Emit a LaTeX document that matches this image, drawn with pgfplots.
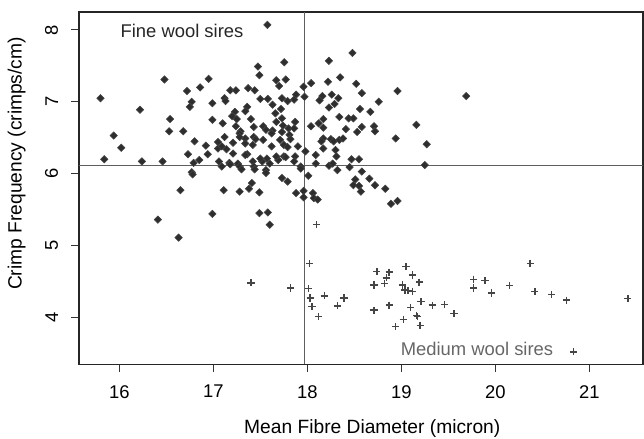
\documentclass[border=0pt]{standalone}
\usepackage{fontspec}
\setmainfont{Liberation Sans}
\usepackage{pgfplots}
\pgfplotsset{compat=1.18}

\definecolor{finecol}{HTML}{2E2E2E}
\definecolor{medcol}{HTML}{454545}
\definecolor{refline}{HTML}{5E5E5E}

\begin{document}
\begin{tikzpicture}
\path[use as bounding box] (-39.5bp,-37.35bp) rectangle (282.5bp,182.15bp);
\begin{axis}[
  scale only axis,
  width=282bp, height=176.15bp,
  xmin=15.571, xmax=21.571,
  ymin=3.347, ymax=8.25,
  xtick={16,17,18,19,20,21},
  ytick={4,5,6,7,8},
  xtick pos=bottom, ytick pos=left,
  tick align=outside,
  major tick length=3.8bp,
  every tick/.style={black!80, line width=0.5bp},
  axis line style={black!85, line width=0.6bp},
  /pgf/number format/assume math mode=true,
  tick label style={font=\fontsize{9.2bp}{11bp}\selectfont, inner sep=0pt},
  xticklabel style={anchor=north},
  xticklabel shift=6.5bp,
  yticklabel style={rotate=90, anchor=south},
  yticklabel shift=6.5bp,
  label style={font=\fontsize{9.6bp}{11.5bp}\selectfont},
  xlabel={Mean Fibre Diameter (micron)},
  ylabel={Crimp Frequency (crimps/cm)},
  xlabel style={at={(axis description cs:0.52,-0.182)}, anchor=center},
  ylabel style={at={(axis description cs:-0.1105,0.57)}, anchor=center},
  clip=false,
]
% reference lines
\draw[refline, line width=0.55bp] (axis cs:17.97,3.347) -- (axis cs:17.97,8.25);
\draw[refline, line width=0.55bp] (axis cs:15.571,6.11) -- (axis cs:21.571,6.11);

% fine wool sires
\addplot[only marks, mark=square*, mark size=1.3bp,
  mark options={rotate=45, fill=finecol, draw=finecol!90, line width=0.3bp}]
coordinates {
(15.80,7.05)(15.94,6.53)(16.02,6.36)(15.84,6.20)(16.22,6.89)(16.24,6.17)
(16.46,6.17)(16.48,7.31)(16.54,6.76)(16.53,6.59)(16.68,6.59)(16.72,7.15)
(16.77,7.00)(16.75,6.93)(16.80,6.45)(16.73,6.27)(16.79,6.15)(16.77,6.02)
(16.78,5.99)(16.65,5.77)(16.41,5.36)(16.63,5.11)(16.86,7.20)(16.95,7.32)
(16.99,6.98)(16.99,6.75)(16.92,6.39)(16.94,6.27)(16.85,6.19)(16.99,5.44)
(17.06,6.17)(17.05,6.44)(17.575,8.07)(17.475,7.49)(17.49,7.37)(17.755,7.55)
(17.67,7.30)(17.77,7.31)(17.70,7.22)(17.18,7.16)(17.24,7.16)(17.37,7.19)
(17.44,7.16)(17.96,7.21)(17.97,7.07)(17.12,7.05)(17.13,7.01)(17.50,7.04)
(17.58,7.04)(17.63,6.96)(17.73,7.05)(17.79,7.01)(17.86,7.03)(17.88,7.10)
(17.72,6.90)(17.66,6.84)(17.36,6.93)(17.34,6.87)(17.23,6.86)(17.20,6.80)
(17.25,6.76)(17.10,6.70)(17.24,6.66)(17.40,6.76)(17.43,6.65)(17.53,6.66)
(17.67,6.72)(17.73,6.77)(17.74,6.67)(17.80,6.63)(17.63,6.60)(17.86,6.63)
(17.29,6.59)(17.28,6.56)(17.34,6.49)(17.43,6.51)(17.56,6.61)(17.62,6.56)
(17.73,6.58)(17.87,6.72)(17.81,6.54)(17.05,6.35)(17.09,6.38)(17.12,6.51)
(17.21,6.43)(17.28,6.51)(17.34,6.42)(17.42,6.40)(17.53,6.47)(17.62,6.38)
(17.71,6.47)(17.75,6.40)(17.82,6.48)(17.79,6.37)(17.90,6.38)(17.87,6.24)
(17.98,6.31)(17.75,6.24)(17.69,6.19)(17.67,6.24)(17.57,6.21)(17.52,6.17)
(17.50,6.21)(17.42,6.17)(17.43,6.10)(17.36,6.27)(17.34,6.26)(17.26,6.14)
(17.21,6.28)(17.17,6.15)(17.28,6.10)(17.56,6.05)(17.56,6.01)(17.73,5.94)
(17.79,5.89)(17.93,6.10)(17.41,5.87)(17.11,5.77)(17.09,6.10)(17.18,6.13)
(17.30,6.06)(17.44,6.06)(17.60,6.14)(17.77,6.23)(17.86,6.17)(17.93,6.07)
(17.28,5.75)(17.38,5.79)(17.49,5.74)(17.88,5.73)(17.96,5.76)(17.96,5.67)
(17.49,5.45)(17.58,5.46)(17.60,5.29)(17.14,6.34)(17.45,6.48)
(18.04,7.26)(18.04,6.66)(18.01,5.97)(18.06,5.73)(18.48,7.68)(18.23,7.57)
(18.22,7.28)(18.35,7.34)(18.52,7.25)(18.58,7.12)(18.96,7.15)(18.76,7.00)
(18.16,7.08)(18.13,7.02)(18.26,7.10)(18.33,7.05)(18.29,6.97)(18.23,6.92)
(18.56,6.90)(18.67,6.86)(18.34,6.79)(18.44,6.77)(18.49,6.77)(18.17,6.76)
(18.12,6.70)(18.17,6.64)(18.41,6.62)(18.58,6.65)(18.71,6.66)(19.16,6.68)
(18.72,6.59)(18.53,6.58)(19.69,7.08)(18.94,6.49)(19.27,6.41)(19.25,6.12)
(18.34,6.47)(18.25,6.48)(18.17,6.49)(18.15,6.45)(18.28,6.45)(18.38,6.49)
(18.17,6.35)(18.30,6.33)(18.31,6.24)(18.09,6.26)(18.47,6.20)(18.55,6.20)
(18.09,6.14)(18.23,6.11)(18.27,6.14)(18.32,6.05)(18.45,6.09)(18.58,6.03)
(18.66,5.93)(18.72,5.84)(18.83,5.79)(18.51,5.92)(18.49,5.84)(18.55,5.83)
(18.57,5.75)(18.89,5.58)(18.96,5.62)(18.07,5.66)(18.11,5.64)
};

% medium wool sires
\addplot[only marks, mark=+, mark size=1.8bp,
  mark options={draw=medcol, line width=0.7bp}]
coordinates {
(17.40,4.48)(17.82,4.41)(18.02,4.75)(18.01,4.40)(18.03,4.27)(18.05,4.15)
(18.12,4.01)(18.18,4.30)(18.32,4.16)(18.39,4.27)(18.71,4.10)(18.71,4.45)
(18.74,4.64)(18.82,4.47)(18.84,4.55)(18.87,4.63)(18.87,4.17)(18.94,3.87)
(19.02,3.97)(19.05,4.71)(19.01,4.45)(19.04,4.38)(19.07,4.37)(19.12,4.59)
(19.12,4.36)(19.19,4.49)(19.10,4.14)(19.16,4.03)(19.17,4.01)(19.20,3.89)
(19.21,4.22)(19.33,4.17)(19.46,4.18)(19.56,4.05)(19.77,4.53)(19.77,4.41)
(19.89,4.51)(19.96,4.34)(20.15,4.44)(20.37,4.75)(20.42,4.36)(20.60,4.32)
(20.76,4.24)(20.83,3.52)(21.41,4.26)(18.10,5.29)
};

\node[anchor=west, inner sep=0pt, text=black!85, font=\fontsize{9.2bp}{11bp}\selectfont]
  at (axis cs:16.01,7.99) {Fine wool sires};
\node[anchor=west, inner sep=0pt, text=black!60, font=\fontsize{9.2bp}{11bp}\selectfont]
  at (axis cs:18.99,3.56) {Medium wool sires};
\end{axis}
\end{tikzpicture}
\end{document}
